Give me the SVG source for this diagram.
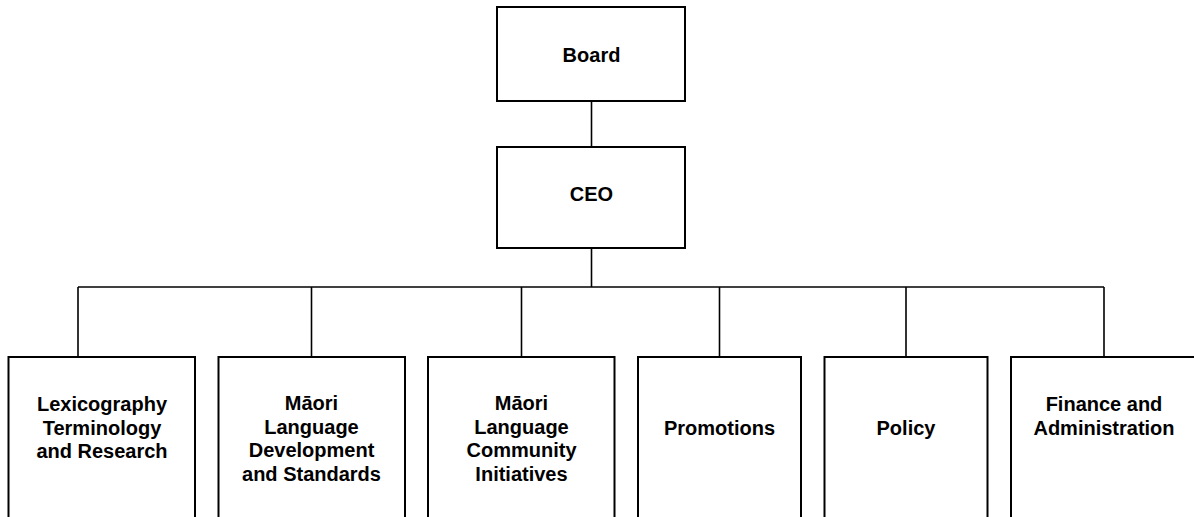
<svg xmlns="http://www.w3.org/2000/svg" width="1194" height="517" viewBox="0 0 1194 517">
<style>
.box{fill:#fff;stroke:#000;stroke-width:2}
.ln{fill:none;stroke:#000;stroke-width:1.6}
text{font-family:"Liberation Sans",Arial,sans-serif;font-weight:bold;font-size:20px;text-anchor:middle;fill:#000}
</style>
<rect width="1194" height="517" fill="#fff"/>
<g id="connectors">
<line class="ln" x1="591.5" y1="101" x2="591.5" y2="147"/>
<line class="ln" x1="591.5" y1="248" x2="591.5" y2="287"/>
<line class="ln" x1="78" y1="287" x2="1104" y2="287"/>
<line class="ln" x1="78" y1="287" x2="78" y2="357"/>
<line class="ln" x1="311.5" y1="287" x2="311.5" y2="357"/>
<line class="ln" x1="521.5" y1="287" x2="521.5" y2="357"/>
<line class="ln" x1="719.5" y1="287" x2="719.5" y2="357"/>
<line class="ln" x1="906" y1="287" x2="906" y2="357"/>
<line class="ln" x1="1104" y1="287" x2="1104" y2="357"/>
</g>
<g id="board">
<rect class="box" x="497" y="7" width="188" height="94"/>
<text x="591.5" y="62">Board</text>
</g>
<g id="ceo">
<rect class="box" x="497" y="147" width="188" height="101"/>
<text x="591.5" y="201">CEO</text>
</g>
<g id="lexicography">
<rect class="box" x="8.5" y="357" width="186.5" height="180"/>
<text x="102" y="411">Lexicography</text>
<text x="102" y="434.5">Terminology</text>
<text x="102" y="458">and Research</text>
</g>
<g id="development">
<rect class="box" x="218.5" y="357" width="186.5" height="180"/>
<text x="311.5" y="410">Māori</text>
<text x="311.5" y="433.5">Language</text>
<text x="311.5" y="457">Development</text>
<text x="311.5" y="481">and Standards</text>
</g>
<g id="community">
<rect class="box" x="428" y="357" width="186.5" height="180"/>
<text x="521.5" y="410">Māori</text>
<text x="521.5" y="433.5">Language</text>
<text x="521.5" y="457">Community</text>
<text x="521.5" y="481">Initiatives</text>
</g>
<g id="promotions">
<rect class="box" x="638" y="357" width="163" height="180"/>
<text x="719.5" y="435">Promotions</text>
</g>
<g id="policy">
<rect class="box" x="824.5" y="357" width="163" height="180"/>
<text x="906" y="435">Policy</text>
</g>
<g id="finance">
<rect class="box" x="1011" y="357" width="200" height="180"/>
<text x="1104" y="411">Finance and</text>
<text x="1104" y="434.5">Administration</text>
</g>
</svg>
